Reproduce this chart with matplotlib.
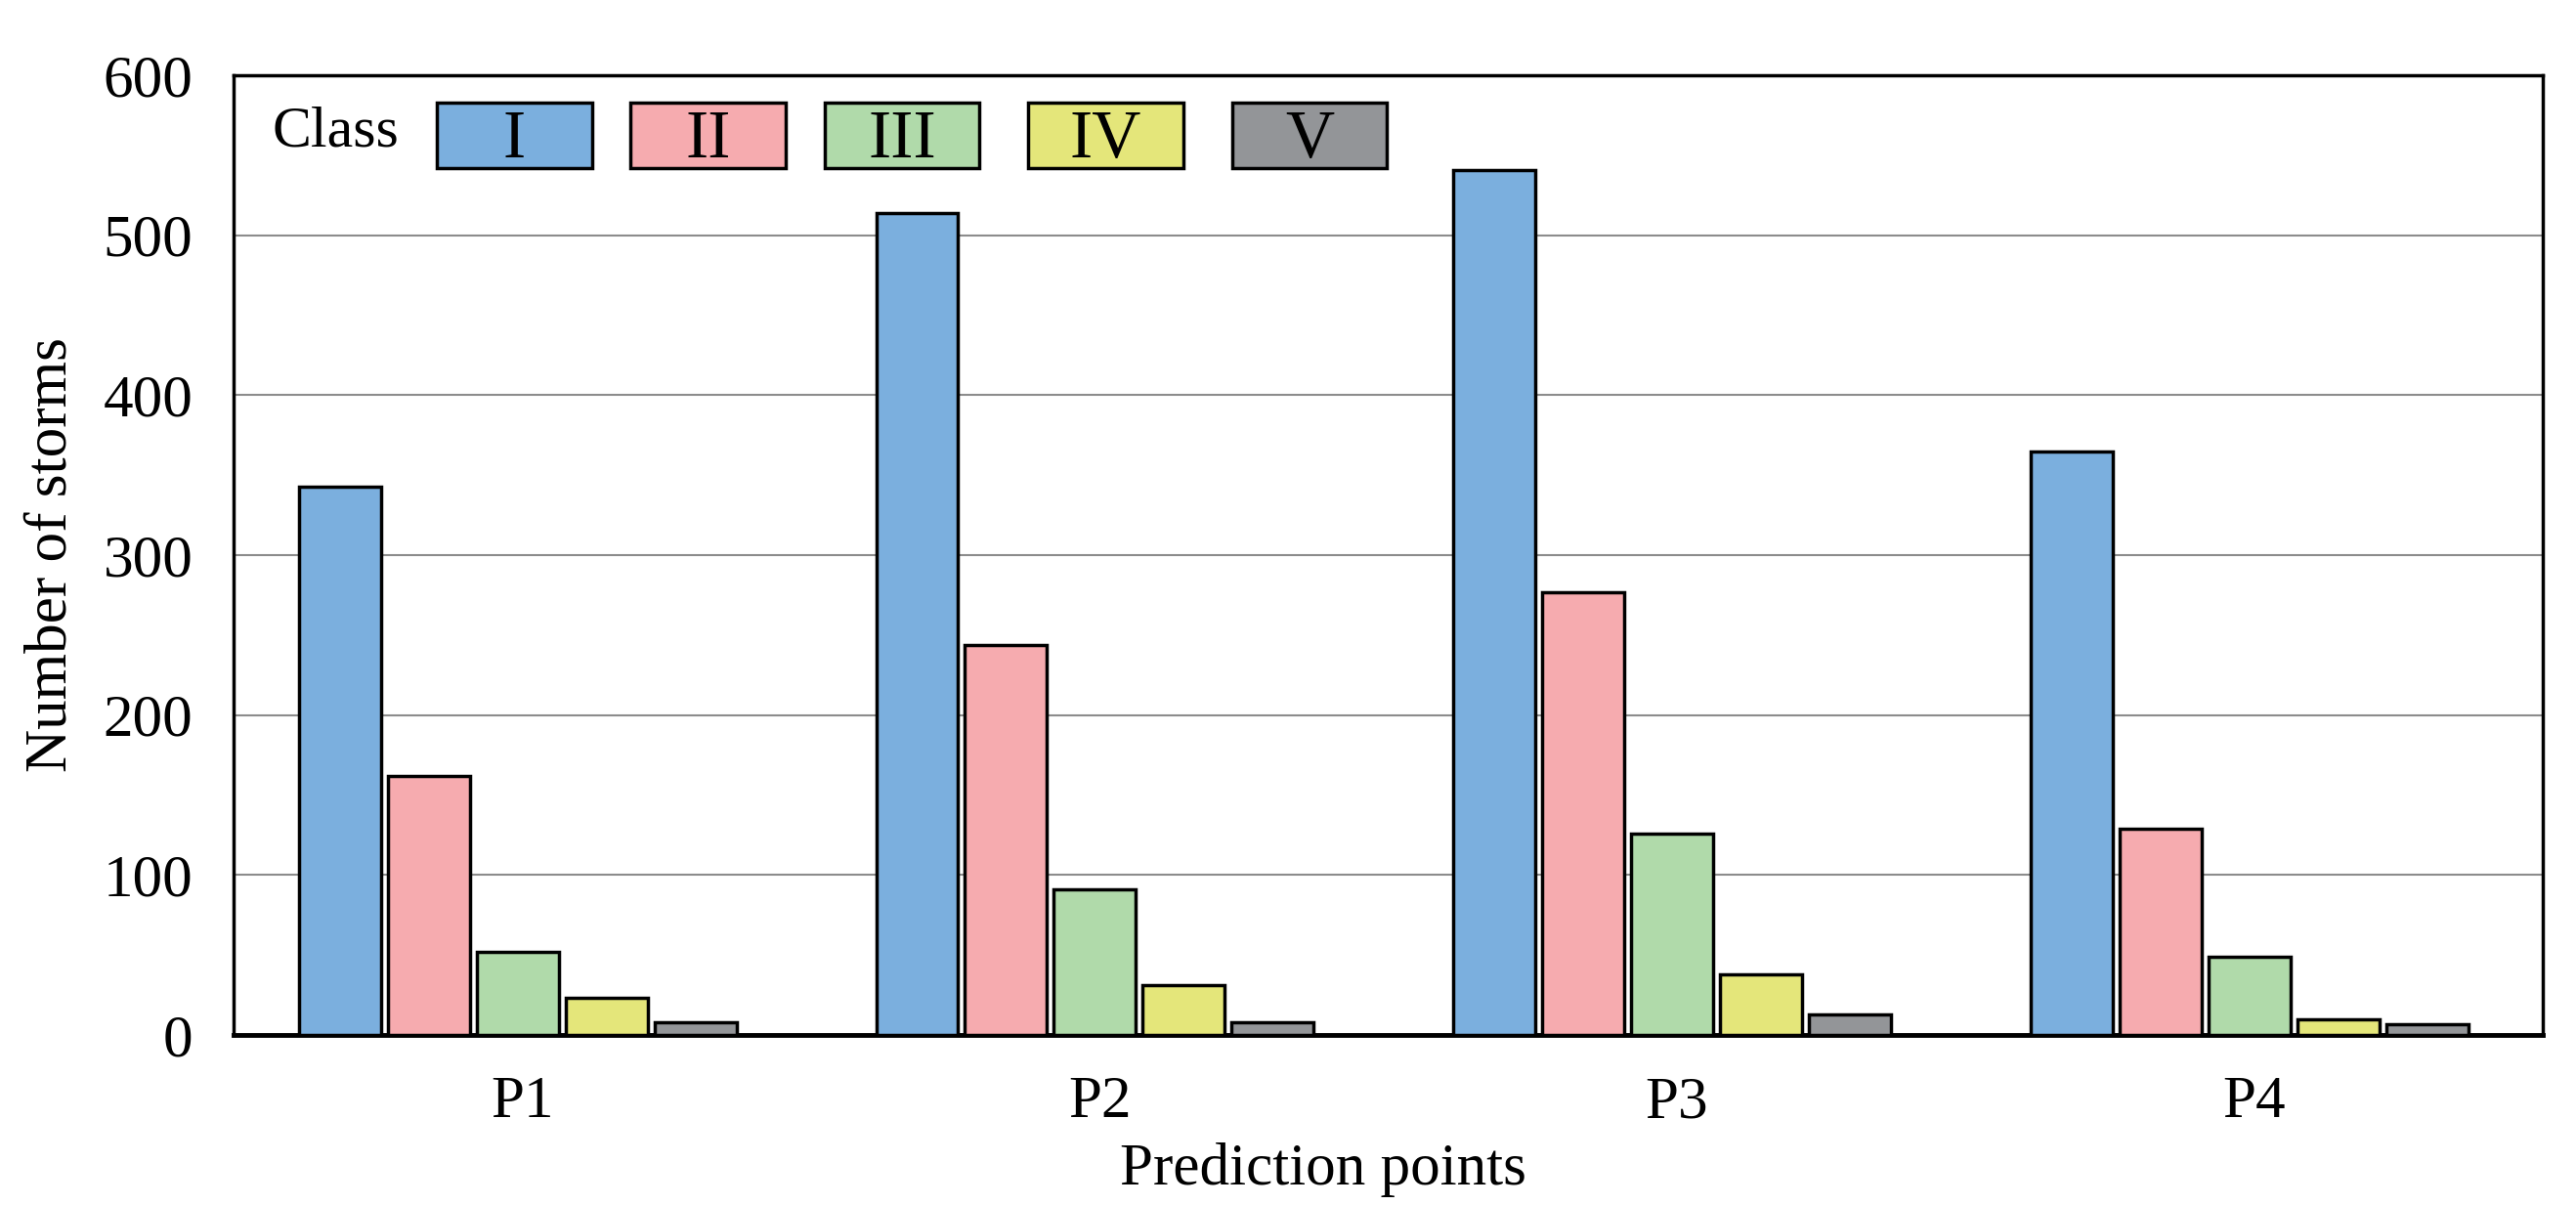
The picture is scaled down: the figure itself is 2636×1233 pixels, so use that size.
import numpy as np
import matplotlib.pyplot as plt
from matplotlib.patches import Rectangle

plt.rcParams['font.family'] = ['Liberation Serif', 'DejaVu Serif']

points = ['P1', 'P2', 'P3', 'P4']
classes = ['I', 'II', 'III', 'IV', 'V']
class_I = [343, 514, 541, 365]
class_II = [162, 244, 277, 129]
class_III = [52, 91, 126, 49]
class_IV = [23, 31, 38, 10]
class_V = [8, 8, 13, 7]

colors = ['#7BAFDE', '#F6ABAF', '#B0DAAA', '#E4E67A', '#939598']
series = [class_I, class_II, class_III, class_IV, class_V]

fig = plt.figure(figsize=(26.36, 12.33), dpi=100)
ax = fig.add_axes([239/2636, 1-1059/1233, (2602-239)/2636, (1059-77)/1233])

x = np.arange(len(points))
pitch = 0.154
width = 0.142
for i, vals in enumerate(series):
    ax.bar(x + (i - 2) * pitch - 0.008, vals, width=width, color=colors[i],
           edgecolor='black', linewidth=2.5, zorder=3)

ax.set_xlim(-0.5, 3.5)
ax.set_ylim(0, 600)
ax.set_yticks(range(0, 601, 100))
ax.set_xticks(x)
ax.set_xticklabels(points)
ax.yaxis.grid(True, color='#8c8c8c', linewidth=1.5, zorder=0)
ax.tick_params(axis='both', length=0, labelsize=44)
ax.tick_params(axis='y', pad=30)
ax.tick_params(axis='x', pad=30)
for s in ax.spines.values():
    s.set_linewidth(2.5)
ax.spines['bottom'].set_linewidth(3.5)

ax.set_ylabel('Number of storms', fontsize=44, labelpad=18)
ax.set_xlabel('Prediction points', fontsize=44, labelpad=4)
ax.xaxis.set_label_coords(0.472, -0.112)

# legend drawn as boxed labels
ax.text(0.044, 0.94, 'Class', transform=ax.transAxes, fontsize=43,
        ha='center', va='center')
box_x = [0.1216, 0.2055, 0.2895, 0.3777, 0.4659]
bw, bh = 0.067, 0.068
for cx, name, c in zip(box_x, classes, colors):
    ax.add_patch(Rectangle((cx - bw/2, 0.937 - bh/2), bw, bh, transform=ax.transAxes,
                           facecolor=c, edgecolor='black', linewidth=2.5, zorder=5))
    ax.text(cx, 0.932, name, transform=ax.transAxes, fontsize=50,
            ha='center', va='center', zorder=6)

fig.savefig('out.png', dpi=100)
